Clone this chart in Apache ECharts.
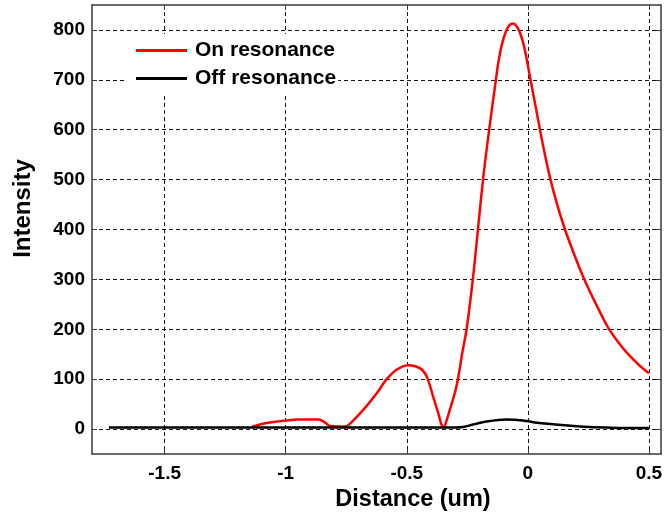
<!DOCTYPE html>
<html>
<head>
<meta charset="utf-8">
<script src="https://cdn.jsdelivr.net/npm/echarts@6/dist/echarts.min.js"></script>
<style>
  html, body { margin: 0; padding: 0; background: #fff; }
  #chart { width: 665px; height: 515px; }
</style>
</head>
<body>
<div id="chart"></div>
<script>
// Intensity profile along the distance axis, on and off resonance
const onDistance = [-1.14, -1.09, -1.05, -1.0, -0.95, -0.865, -0.837, -0.817, -0.756, -0.734, -0.679, -0.624, -0.583, -0.542, -0.494, -0.446, -0.418, -0.391, -0.37, -0.356, -0.347, -0.335, -0.32, -0.3, -0.285, -0.27, -0.253, -0.226, -0.205, -0.184, -0.157, -0.132, -0.12, -0.105, -0.088, -0.075, -0.061, -0.047, -0.033, -0.018, -0.006, 0.008, 0.03, 0.049, 0.063, 0.09, 0.12, 0.152, 0.19, 0.228, 0.28, 0.331, 0.38, 0.42, 0.46, 0.5];
const onIntensity = [4, 11, 14, 17, 19, 19, 13, 6, 5, 11, 39, 72, 100, 119, 128, 122, 106, 65, 32, 8, 4, 18, 42, 75, 110, 155, 200, 305, 405, 505, 610, 700, 740, 775, 800, 810, 813, 808, 795, 772, 745, 708, 652, 603, 568, 507, 452, 402, 352, 306, 252, 204, 170, 147, 128, 112];

const offDistance = [-1.73, -0.3, -0.268, -0.226, -0.17, -0.088, -0.02, 0.049, 0.118, 0.214, 0.407, 0.5];
const offIntensity = [3, 3, 4, 9, 15, 19, 17, 12, 9, 5, 2, 2];

const xTicks = [-1.5, -1, -0.5, 0, 0.5];
const yTicks = [0, 100, 200, 300, 400, 500, 600, 700, 800];

const seriesNames = ['On resonance', 'Off resonance'];

const pairs = (xs, ys) => xs.map((x, i) => [x, ys[i]]);

const FONT = "'Liberation Sans', Arial, sans-serif";
const frame = { show: true, lineStyle: { color: '#3a3a3a', width: 1.5 } };
const grid = { show: true, lineStyle: { color: '#111', width: 1, type: [4, 3] } };
const ticksIn = (vals) => ({ show: true, inside: true, length: 5, customValues: vals, lineStyle: { color: '#3a3a3a', width: 1 } });

const xRange = { min: -1.8, max: 0.55 };
const yRange = { min: -50, max: 850 };

const chart = echarts.init(document.getElementById('chart'), null, { renderer: 'canvas' });
chart.setOption({
  animation: false,
  backgroundColor: '#fff',
  textStyle: { fontFamily: FONT },
  grid: { left: 92, right: 4, top: 5, bottom: 61, containLabel: false, outerBoundsMode: 'none' },
  legend: {
    data: seriesNames.map(n => ({ name: n, icon: 'rect' })),
    orient: 'vertical',
    left: 125,
    top: 34,
    padding: [6, 2, 7, 11],
    backgroundColor: '#ffffff',
    itemWidth: 51,
    itemHeight: 3,
    itemGap: 7,
    z: 10,
    textStyle: { fontFamily: FONT, fontSize: 21, fontWeight: 'bold', color: '#000', padding: [0, 0, 0, 3] }
  },
  xAxis: [
    {
      type: 'value', position: 'bottom', ...xRange,
      name: 'Distance (um)', nameLocation: 'middle', nameGap: 34,
      nameTextStyle: { fontFamily: FONT, fontSize: 23.5, fontWeight: 'bold', color: '#000', padding: [0, 0, 0, 73] },
      axisLine: { ...frame, onZero: false },
      axisTick: ticksIn(xTicks),
      splitLine: grid,
      axisLabel: {
        customValues: xTicks, margin: 10,
        fontFamily: FONT, fontSize: 19, fontWeight: 'bold', color: '#000',
        formatter: v => String(v)
      }
    },
    {
      type: 'value', position: 'top', ...xRange,
      axisLine: { ...frame, onZero: false },
      axisTick: ticksIn(xTicks),
      axisLabel: { show: false },
      splitLine: { show: false }
    }
  ],
  yAxis: [
    {
      type: 'value', position: 'left', ...yRange,
      name: 'Intensity', nameLocation: 'middle', nameGap: 57, nameRotate: 90,
      nameTextStyle: { fontFamily: FONT, fontSize: 24, fontWeight: 'bold', color: '#000', padding: [0, 0, 0, 42] },
      axisLine: { ...frame, onZero: false },
      axisTick: ticksIn(yTicks),
      splitLine: grid,
      axisLabel: {
        customValues: yTicks, margin: 7,
        fontFamily: FONT, fontSize: 19, fontWeight: 'bold', color: '#000'
      }
    },
    {
      type: 'value', position: 'right', ...yRange,
      axisLine: { ...frame, onZero: false },
      axisTick: ticksIn(yTicks),
      axisLabel: { show: false },
      splitLine: { show: false }
    }
  ],
  series: [
    {
      name: seriesNames[0], type: 'line', xAxisIndex: 0, yAxisIndex: 0,
      data: pairs(onDistance, onIntensity),
      showSymbol: false, symbol: 'none', smooth: 0.3,
      lineStyle: { color: '#ff0000', width: 2.5 },
      itemStyle: { color: '#ff0000' },
      z: 2
    },
    {
      name: seriesNames[1], type: 'line', xAxisIndex: 0, yAxisIndex: 0,
      data: pairs(offDistance, offIntensity),
      showSymbol: false, symbol: 'none', smooth: 0.2,
      lineStyle: { color: '#000000', width: 2.5 },
      itemStyle: { color: '#000000' },
      z: 3
    }
  ]
});
</script>
</body>
</html>
